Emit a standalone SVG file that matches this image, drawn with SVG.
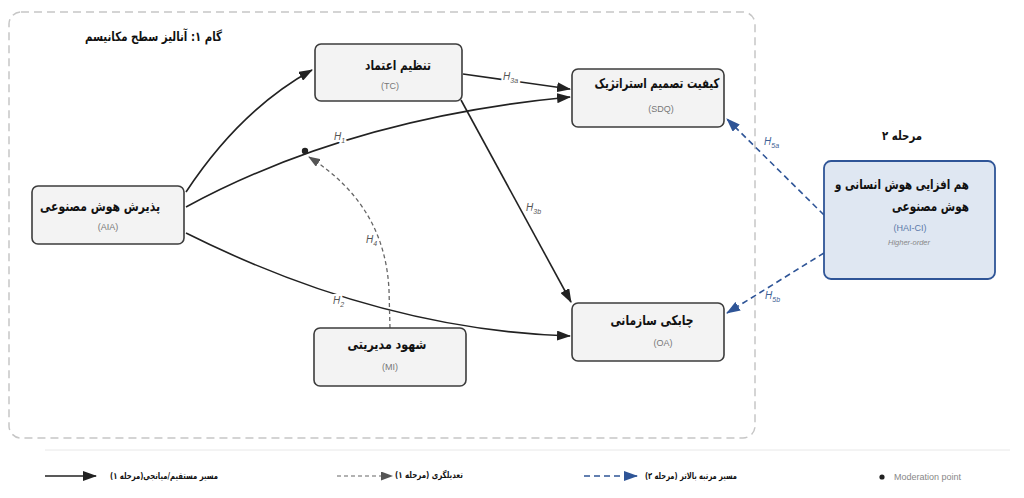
<svg xmlns="http://www.w3.org/2000/svg" width="1024" height="498" viewBox="0 0 1024 498">
<defs>
<marker id="ab" markerUnits="userSpaceOnUse" markerWidth="14" markerHeight="10" refX="13" refY="5" orient="auto"><path d="M0,0 L14,5 L0,10 Z" fill="#222"/></marker>
<marker id="ag" markerUnits="userSpaceOnUse" markerWidth="12" markerHeight="9" refX="11" refY="4.5" orient="auto"><path d="M0,0 L12,4.5 L0,9 Z" fill="#555"/></marker>
<marker id="au" markerUnits="userSpaceOnUse" markerWidth="14" markerHeight="10" refX="13" refY="5" orient="auto"><path d="M0,0 L14,5 L0,10 Z" fill="#2f5597"/></marker>
<style>
.node{fill:#f3f3f3;stroke:#3c3c3c;stroke-width:1.6}
.hnode{fill:#dfe7f2;stroke:#2f5597;stroke-width:1.8}
.fa{font-family:"DejaVu Sans",sans-serif;font-weight:bold;fill:#111;direction:rtl;unicode-bidi:embed}
.ab{font-family:"Liberation Sans",Arial,sans-serif;font-size:9px;fill:#777}
.solid{fill:none;stroke:#222;stroke-width:1.6}
.mod{fill:none;stroke:#666;stroke-width:1.3;stroke-dasharray:4 3}
.blue{fill:none;stroke:#2f5597;stroke-width:1.6;stroke-dasharray:6 4}
.lab{font-family:"Liberation Sans",Arial,sans-serif;font-style:italic;font-size:10px;fill:#555;stroke:#fff;stroke-width:4;paint-order:stroke}
.labb{font-family:"Liberation Sans",Arial,sans-serif;font-style:italic;font-size:10px;fill:#3d5f95;stroke:#fff;stroke-width:4;paint-order:stroke}
.leg{font-family:"DejaVu Sans",sans-serif;font-weight:bold;font-size:9px;fill:#111;direction:rtl;unicode-bidi:embed}
</style>
</defs>
<rect width="1024" height="498" fill="#fff"/>
<rect x="9" y="12" width="746" height="426" rx="12" fill="none" stroke="#c6c6c6" stroke-width="1.5" stroke-dasharray="8 5"/>
<text class="fa" x="153.5" y="41" font-size="13" text-anchor="middle" textLength="137" lengthAdjust="spacingAndGlyphs">گام ۱: آنالیز سطح مکانیسم</text>
<text class="fa" x="902" y="140" font-size="12.5" text-anchor="middle" textLength="40" lengthAdjust="spacingAndGlyphs">مرحله ۲</text>

<g id="connectors">
<path class="solid" d="M186,192 Q240,110 312,70" marker-end="url(#ab)"/>
<path class="solid" d="M186,207 Q350,118 570,97" marker-end="url(#ab)"/>
<path class="solid" d="M186,233 Q380,330 570,336" marker-end="url(#ab)"/>
<path class="solid" d="M463,74 L570,89" marker-end="url(#ab)"/>
<path class="solid" d="M461,100 L571,302" marker-end="url(#ab)"/>
<path class="mod" d="M390,328 L389,290 Q385,205 309,157" marker-end="url(#ag)"/>
<path class="blue" d="M824,215 L727,119" marker-end="url(#au)"/>
<path class="blue" d="M824,253 L727,313" marker-end="url(#au)"/>
<circle cx="305" cy="151" r="3.2" fill="#222"/>
<text class="lab" x="334" y="140">H<tspan font-size="7" dy="3">1</tspan></text>
<text class="lab" x="333" y="304">H<tspan font-size="7" dy="3">2</tspan></text>
<text class="lab" x="503" y="80">H<tspan font-size="7" dy="3">3a</tspan></text>
<text class="lab" x="526" y="211">H<tspan font-size="7" dy="3">3b</tspan></text>
<text class="lab" x="366" y="243">H<tspan font-size="7" dy="3">4</tspan></text>
<text class="labb" x="764" y="145">H<tspan font-size="7" dy="3">5a</tspan></text>
<text class="labb" x="765" y="299">H<tspan font-size="7" dy="3">5b</tspan></text>
</g>

<g id="TC">
<rect class="node" x="315" y="44" width="147" height="57" rx="6"/>
<text class="fa" x="398" y="70" font-size="13.5" text-anchor="middle" textLength="66" lengthAdjust="spacingAndGlyphs">تنظیم اعتماد</text>
<text class="ab" x="390" y="89" text-anchor="middle">(TC)</text>
</g>
<g id="SDQ">
<rect class="node" x="572" y="69" width="152" height="58" rx="6"/>
<text class="fa" x="657" y="88" font-size="13.5" text-anchor="middle" textLength="125" lengthAdjust="spacingAndGlyphs">کیفیت تصمیم استراتژیک</text>
<text class="ab" x="661" y="112" text-anchor="middle">(SDQ)</text>
</g>
<g id="AIA">
<rect class="node" x="32" y="186" width="152" height="58" rx="6"/>
<text class="fa" x="100" y="211" font-size="13.5" text-anchor="middle" textLength="120" lengthAdjust="spacingAndGlyphs">پذیرش هوش مصنوعی</text>
<text class="ab" x="108" y="230" text-anchor="middle">(AIA)</text>
</g>
<g id="OA">
<rect class="node" x="572" y="303" width="152" height="58" rx="6"/>
<text class="fa" x="652" y="325" font-size="13.5" text-anchor="middle" textLength="83" lengthAdjust="spacingAndGlyphs">چابکی سازمانی</text>
<text class="ab" x="663" y="346" text-anchor="middle">(OA)</text>
</g>
<g id="MI">
<rect class="node" x="314" y="328" width="152" height="58" rx="6"/>
<text class="fa" x="387" y="349" font-size="13.5" text-anchor="middle" textLength="79" lengthAdjust="spacingAndGlyphs">شهود مدیریتی</text>
<text class="ab" x="390" y="370" text-anchor="middle">(MI)</text>
</g>
<g id="HAICI">
<rect class="hnode" x="824" y="161" width="171" height="118" rx="7"/>
<text class="fa" x="902" y="189" font-size="13.5" text-anchor="middle" textLength="134" lengthAdjust="spacingAndGlyphs">هم افزایی هوش انسانی و</text>
<text class="fa" x="930.5" y="211" font-size="13.5" text-anchor="middle" textLength="77" lengthAdjust="spacingAndGlyphs">هوش مصنوعی</text>
<text x="910" y="231" font-family="Liberation Sans,Arial,sans-serif" font-size="9" fill="#5a78a8" text-anchor="middle">(HAI-CI)</text>
<text x="909" y="245" font-family="Liberation Sans,Arial,sans-serif" font-size="7.5" font-style="italic" fill="#888" text-anchor="middle">Higher-order</text>
</g>

<g id="legend">
<line x1="45" y1="450" x2="1010" y2="450" stroke="#e8e8e8" stroke-width="1"/>
<line x1="45" y1="476" x2="96" y2="476" stroke="#222" stroke-width="1.5" marker-end="url(#ab)"/>
<text class="leg" x="164" y="479" text-anchor="middle" textLength="108" lengthAdjust="spacingAndGlyphs">مسیر مستقیم/میانجی(مرحله ۱)</text>
<line x1="337" y1="476" x2="392" y2="476" stroke="#666" stroke-width="1.2" stroke-dasharray="4 3" marker-end="url(#ag)"/>
<text class="leg" x="429" y="478" text-anchor="middle" textLength="68" lengthAdjust="spacingAndGlyphs">تعدیلگری (مرحله ۱)</text>
<line x1="584" y1="476" x2="637" y2="476" stroke="#2f5597" stroke-width="1.6" stroke-dasharray="6 4" marker-end="url(#au)"/>
<text class="leg" x="691" y="479" text-anchor="middle" textLength="92" lengthAdjust="spacingAndGlyphs">مسیر مرتبه بالاتر (مرحله ۲)</text>
<circle cx="882" cy="477" r="2.6" fill="#222"/>
<text x="894" y="480" font-family="Liberation Sans,Arial,sans-serif" font-size="9" fill="#888">Moderation point</text>
</g>
</svg>
